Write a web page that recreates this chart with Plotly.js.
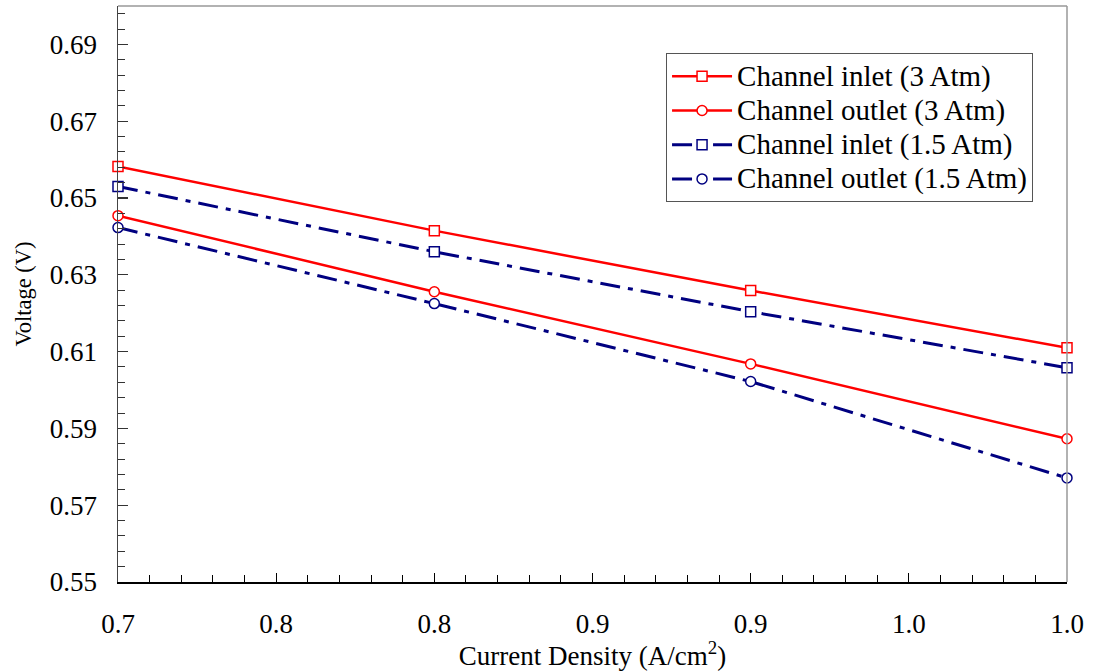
<!DOCTYPE html>
<html>
<head>
<meta charset="utf-8">
<script src="https://cdn.plot.ly/plotly-3.0.1.min.js"></script>
<style>html,body{margin:0;padding:0;background:#fff}#chart{width:1096px;height:671px}</style>
</head>
<body>
<div id="chart"></div>
<script>
const currentDensity = [0.7, 0.8, 0.9, 1.0];
const inlet3 = [0.6582, 0.6415, 0.6259, 0.6110];
const outlet3 = [0.6454, 0.6256, 0.6068, 0.5873];
const inlet15 = [0.6530, 0.6360, 0.6204, 0.6058];
const outlet15 = [0.6423, 0.6225, 0.6022, 0.5771];
const seriesNames = ['Channel inlet (3 Atm)', 'Channel outlet (3 Atm)', 'Channel inlet (1.5 Atm)', 'Channel outlet (1.5 Atm)'];
const xTickVals = [0.7, 0.75, 0.8, 0.85, 0.9, 0.95, 1.0];
const xTickText = ['0.7', '0.8', '0.8', '0.9', '0.9', '1.0', '1.0'];
const yTickVals = [0.55, 0.57, 0.59, 0.61, 0.63, 0.65, 0.67, 0.69];
const yTickText = ['0.55', '0.57', '0.59', '0.61', '0.63', '0.65', '0.67', '0.69'];

const RED = '#ff0000', NAVY = '#000080';
const dashDot = '20px,8px,5px,8px';
function tr(y, name, color, symbol, dash, width) {
  return {
    x: currentDensity, y: y, name: '<span style="font-size:29px">' + name + '</span>',
    type: 'scatter', mode: 'lines+markers', cliponaxis: false,
    line: {color: color, width: width, dash: dash},
    marker: {symbol: symbol, size: 10, color: '#fff', line: {width: 1.5, color: color}}
  };
}
const data = [
  tr(inlet3, seriesNames[0], RED, 'square', 'solid', 2.5),
  tr(outlet3, seriesNames[1], RED, 'circle', 'solid', 2.5),
  tr(inlet15, seriesNames[2], NAVY, 'square', dashDot, 3),
  tr(outlet15, seriesNames[3], NAVY, 'circle', dashDot, 3)
];
const FONT = 'Liberation Serif';
const layout = {
  width: 1096, height: 671,
  margin: {l: 118, r: 29, t: 6, b: 89},
  paper_bgcolor: '#fff', plot_bgcolor: '#fff',
  font: {family: FONT, color: '#000'},
  showlegend: true,
  legend: {
    x: 0.5775, y: 0.918, xanchor: 'left', yanchor: 'top',
    bgcolor: '#fff', bordercolor: '#555', borderwidth: 1,
    font: {family: FONT, size: 24, color: '#000'},
    itemwidth: 60,
    tracegroupgap: 0
  },
  xaxis: {
    range: [0.7, 1.0], showgrid: false, zeroline: false,
    showline: true, linecolor: '#000', linewidth: 1.5,
    tickmode: 'array', tickvals: xTickVals, ticktext: xTickText,
    ticks: 'inside', ticklen: 9, tickwidth: 1.2, tickcolor: '#000',
    minor: {dtick: 0.01, ticks: 'inside', ticklen: 7, tickwidth: 1, tickcolor: '#000', showgrid: false},
    tickfont: {family: FONT, size: 27, color: '#000'},
    ticklabelstandoff: 17,
    title: {text: 'Current Density (A/cm<sup>2</sup>)', font: {family: FONT, size: 27, color: '#000'}, standoff: 0}
  },
  yaxis: {
    range: [0.55, 0.70], showgrid: false, zeroline: false,
    showline: true, linecolor: '#444', linewidth: 1.5,
    tickmode: 'array', tickvals: yTickVals, ticktext: yTickText,
    ticks: 'inside', ticklen: 10, tickwidth: 1.2, tickcolor: '#333',
    minor: {tick0: 0.55, dtick: 0.004, ticks: 'inside', ticklen: 7, tickwidth: 1, tickcolor: '#333', showgrid: false},
    tickfont: {family: FONT, size: 27, color: '#000'},
    ticklabelstandoff: 14,
    title: {text: 'Voltage (V)', font: {family: FONT, size: 22.5, color: '#000'}, standoff: 12}
  },
  shapes: [
    {type: 'line', xref: 'paper', yref: 'paper', x0: 0, x1: 1, y0: 1, y1: 1, line: {color: '#999', width: 1.5}},
    {type: 'line', xref: 'paper', yref: 'paper', x0: 1, x1: 1, y0: 0, y1: 1, line: {color: '#999', width: 1.5}}
  ]
};
Plotly.newPlot('chart', data, layout, {displayModeBar: false, staticPlot: true});
</script>
</body>
</html>
